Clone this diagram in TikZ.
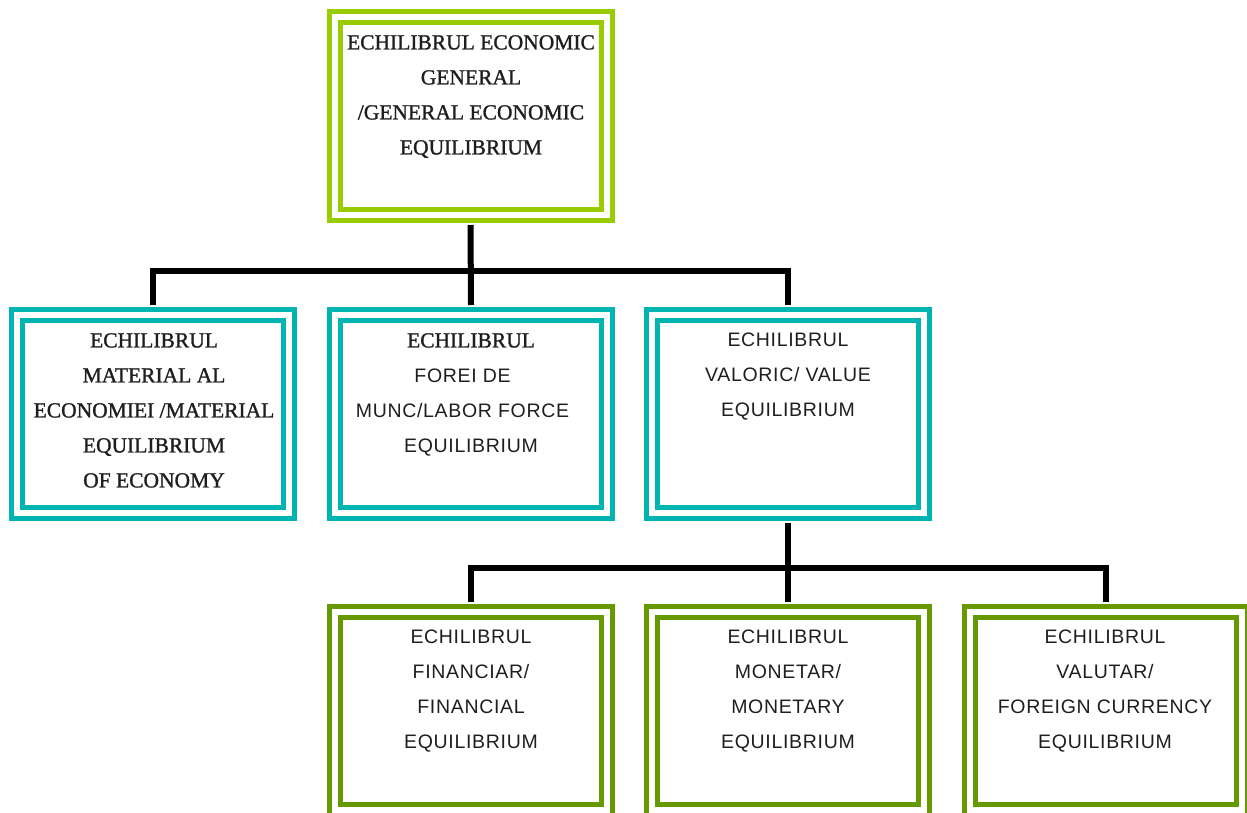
\documentclass[tikz,border=0pt]{standalone}
\usepackage{fontspec}
\setmainfont[LetterSpace=3.5]{Liberation Sans}
\newfontfamily\serifbox[FakeBold=1.2]{Liberation Serif}
\definecolor{topgreen}{HTML}{99CC00}
\definecolor{tealb}{HTML}{00B4B2}
\definecolor{oliveb}{HTML}{669900}
\definecolor{txt}{HTML}{1E1E1E}
\newcommand{\trailgap}{\rule{17pt}{0pt}}
\begin{document}
\begin{tikzpicture}[x=1pt,y=-1pt,
  box/.style={draw=#1, line width=5pt, double=white, double distance=6pt,
    minimum width=272pt, minimum height=198pt, inner sep=0pt, outer sep=10pt},
  sertxt/.style={font=\serifbox\fontsize{21.5}{35}\selectfont, align=center,
    anchor=north, inner sep=0pt, text=txt},
  santxt/.style={font=\fontsize{19.5}{35}\selectfont, align=center,
    anchor=north, inner sep=0pt, text=txt},
  conn/.style={draw=black, line width=6pt}]
\useasboundingbox (0,0) rectangle (1247,812);
% boxes
\node[box=topgreen] (top) at (470.5,116) {};
\node[box=tealb] (m1) at (153,414) {};
\node[box=tealb] (m2) at (471,414) {};
\node[box=tealb] (m3) at (788,414) {};
\node[box=oliveb] (b1) at (471,711) {};
\node[box=oliveb] (b2) at (788,711) {};
\node[box=oliveb] (b3) at (1106,711) {};
% texts
\node[sertxt] (ttop) at (471,35) {ECHILIBRUL ECONOMIC\\GENERAL\\/GENERAL ECONOMIC\\EQUILIBRIUM};
\node[sertxt] (tm1) at (154,333) {ECHILIBRUL\\MATERIAL AL\\ECONOMIEI /MATERIAL\\EQUILIBRIUM\\OF ECONOMY};
\node[santxt] (tm2) at (471,333) {{\serifbox\fontsize{21.5}{35}\selectfont ECHILIBRUL}\\FOREI DE\trailgap\\MUNC/LABOR FORCE\trailgap\\EQUILIBRIUM};
\node[santxt] (tm3) at (788,333) {ECHILIBRUL\\VALORIC/ VALUE\\EQUILIBRIUM};
\node[santxt] (tb1) at (471,630) {ECHILIBRUL\\FINANCIAR/\\FINANCIAL\\EQUILIBRIUM};
\node[santxt] (tb2) at (788,630) {ECHILIBRUL\\MONETAR/\\MONETARY\\EQUILIBRIUM};
\node[santxt] (tb3) at (1105,630) {ECHILIBRUL\\VALUTAR/\\FOREIGN CURRENCY\\EQUILIBRIUM};
% connectors
\coordinate (j1) at (470,271);
\coordinate (j2) at (788,568);
\draw[conn] (top.south) -- (m2.north);
\draw[conn] (m1.north) |- (j1) -| (m3.north);
\draw[conn] (m3.south) -- (b2.north);
\draw[conn] (b1.north) |- (j2) -| (b3.north);
\end{tikzpicture}
\end{document}
